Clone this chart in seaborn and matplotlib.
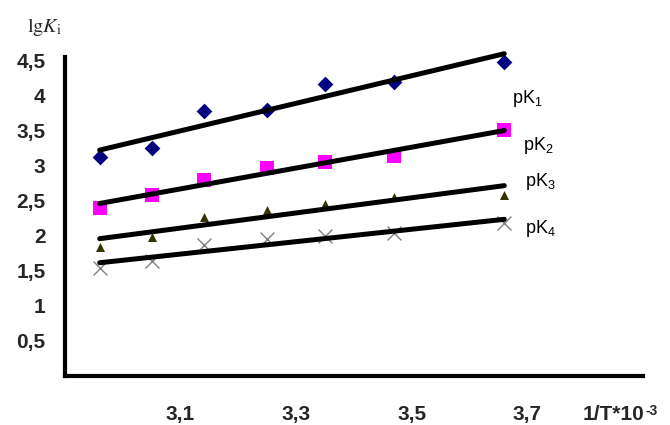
import numpy as np
import pandas as pd
import seaborn as sns
import matplotlib.pyplot as plt
from matplotlib import font_manager

# ---- data ----
inv_T = [2.96, 3.05, 3.14, 3.25, 3.35, 3.47, 3.66]
pK1 = [3.12, 3.25, 3.78, 3.80, 4.16, 4.20, 4.48]
pK2 = [2.39, 2.58, 2.80, 2.96, 3.05, 3.13, 3.51]
pK3 = [1.83, 1.98, 2.27, 2.36, 2.45, 2.55, 2.58]
pK4 = [1.54, 1.63, 1.86, 1.95, 1.99, 2.04, 2.18]
series_labels = ['pK$_1$', 'pK$_2$', 'pK$_3$', 'pK$_4$']
x_ticks = [3.1, 3.3, 3.5, 3.7, 3.9]
x_tick_labels = ['3,1', '3,3', '3,5', '3,7', '']
y_ticks = [0.5, 1.0, 1.5, 2.0, 2.5, 3.0, 3.5, 4.0, 4.5]
y_tick_labels = ['0,5', '1', '1,5', '2', '2,5', '3', '3,5', '4', '4,5']

sns.set_style('white')
avail = {f.name for f in font_manager.fontManager.ttflist}
narrow = 'Liberation Sans Narrow' if 'Liberation Sans Narrow' in avail else 'Liberation Sans'
plt.rcParams['font.family'] = ['Liberation Sans', 'DejaVu Sans']
plt.rcParams['mathtext.fontset'] = 'custom'
plt.rcParams['mathtext.rm'] = 'Liberation Sans'
plt.rcParams['mathtext.it'] = 'Liberation Sans:italic'
plt.rcParams['mathtext.bf'] = 'Liberation Sans:bold'

styles = [
    dict(marker='D', color='#000080', s=64, lw=0),
    dict(marker='s', color='#FF00FF', s=90, lw=0),
    dict(marker='^', color='#333300', s=42, lw=0),
    dict(marker='x', color='#808080', s=100, lw=1.0),
]
label_pos = [(3.673, 3.89), (3.692, 3.22), (3.696, 2.70), (3.696, 2.04)]

fig = plt.figure(figsize=(6.7, 4.25), dpi=100)
ax = fig.add_axes([65 / 670, 1 - 375.5 / 425, 578 / 670, 318.5 / 425])

for vals, st, lab, pos in zip([pK1, pK2, pK3, pK4], styles, series_labels, label_pos):
    df = pd.DataFrame({'x': inv_T, 'y': vals})
    sns.scatterplot(data=df, x='x', y='y', marker=st['marker'], color=st['color'],
                    s=st['s'], linewidth=st['lw'],
                    edgecolor=st['color'] if st['marker'] != 'x' else None,
                    ax=ax, zorder=2, legend=False, clip_on=False)
    sns.regplot(data=df, x='x', y='y', scatter=False, ci=None, truncate=True,
                line_kws=dict(color='black', lw=3.6, solid_capstyle='round',
                              zorder=3, clip_on=False), ax=ax)
    ax.text(pos[0], pos[1], lab, fontsize=13, family=narrow, ha='left',
            va='baseline', color='black')

ax.set_xlim(2.9, 3.9)
ax.set_ylim(0, 4.55)
ax.set_xticks(x_ticks)
ax.set_xticklabels(x_tick_labels, fontsize=15, fontweight='bold')
ax.set_yticks(y_ticks)
ax.set_yticklabels(y_tick_labels, fontsize=15, fontweight='bold')
ax.tick_params(axis='both', direction='in', length=6, width=2.2, color='black')
ax.tick_params(axis='x', pad=21)
ax.tick_params(axis='y', pad=14)
ax.set_xlabel('')
ax.set_ylabel('')
for side in ['top', 'right']:
    ax.spines[side].set_visible(False)
for side in ['left', 'bottom']:
    ax.spines[side].set_linewidth(3.0)
    ax.spines[side].set_color('black')

fig.text(27 / 670, 1 - 32 / 425, r'$\mathrm{lg}K_\mathrm{i}$', fontsize=14.5,
         math_fontfamily='stix', ha='left', va='baseline')
t1 = fig.text(583 / 670, 1 - 420 / 425, '1/T*10', fontsize=15, fontweight='bold',
              ha='left', va='baseline')
ax.annotate('-3', xy=(1.0, 1.0), xycoords=t1, xytext=(0.5, 1), textcoords='offset points',
            fontsize=10, fontweight='bold', ha='left', va='top', annotation_clip=False)

fig.savefig('out.png', dpi=100)
